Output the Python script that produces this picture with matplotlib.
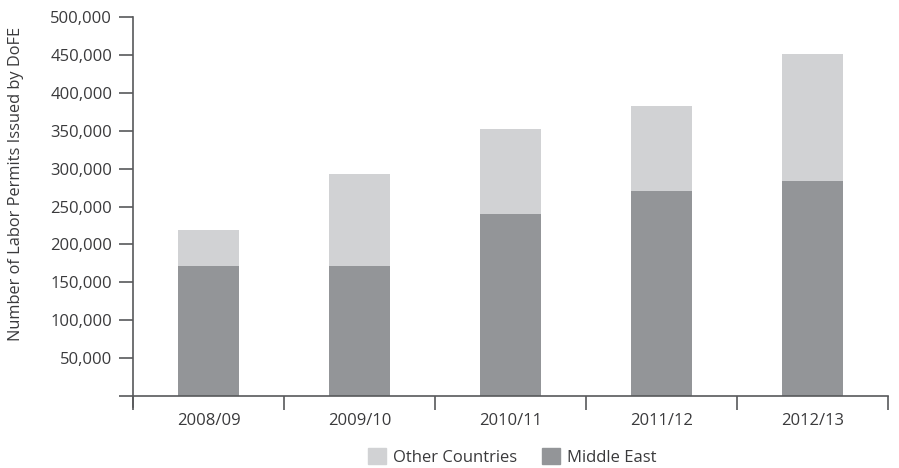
import matplotlib
matplotlib.use("Agg")
import matplotlib.pyplot as plt
import numpy as np
from matplotlib.patches import Patch

plt.rcParams['font.family'] = ['Open Sans', 'DejaVu Sans']

# data
years = ['2008/09', '2009/10', '2010/11', '2011/12', '2012/13']
middle_east = [171500, 171500, 240000, 270500, 283500]
totals = [219000, 293000, 352500, 382500, 451500]
other = [t - m for t, m in zip(totals, middle_east)]

light = '#d1d2d4'
dark = '#939598'
axis_col = '#58595b'
text_col = '#3a3a3c'

fig = plt.figure(figsize=(8.99, 4.68), dpi=100)
ax = fig.add_axes([133 / 899, 1 - 407 / 468, (888 - 133) / 899, (407 - 17) / 468])

x = np.arange(len(years))
ax.bar(x, middle_east, width=0.4, color=dark, label='Middle East')
ax.bar(x, other, width=0.4, bottom=middle_east, color=light, label='Other Countries')

ax.set_xlim(-0.5, len(years) - 0.5)
ax.set_ylim(-14500, 500000)

for s in ['top', 'right']:
    ax.spines[s].set_visible(False)
ax.spines['left'].set_color(axis_col)
ax.spines['bottom'].set_color(axis_col)
ax.spines['left'].set_linewidth(1.2)
ax.spines['bottom'].set_linewidth(1.2)
ax.spines['bottom'].set_position(('data', 0))

yt = np.arange(0, 500001, 50000)
ax.set_yticks(yt)
ax.set_yticklabels([''] + [f'{v:,}' for v in yt[1:]])
ax.tick_params(axis='y', direction='out', length=10, width=1.2, color=axis_col,
               labelsize=12, labelcolor=text_col, pad=5)

# ticks at category boundaries, labels at category centres
ax.set_xticks(np.arange(-0.5, len(years)), minor=False)
ax.set_xticklabels([''] * (len(years) + 1))
ax.set_xticks(x, minor=True)
ax.set_xticklabels(years, minor=True)
ax.tick_params(axis='x', which='major', direction='out', length=10, width=1.2, color=axis_col)
ax.tick_params(axis='x', which='minor', length=0, labelsize=12, labelcolor=text_col, pad=12)

fig.text(16 / 899, 1 - 184 / 468, 'Number of Labor Permits Issued by DoFE', rotation=90,
         ha='center', va='center', fontsize=11.8, color=text_col)

handles = [Patch(color=light, label='Other Countries'), Patch(color=dark, label='Middle East')]
fig.legend(handles=handles, loc='center', bbox_to_anchor=(512 / 899, 1 - 457 / 468), ncol=2,
           frameon=False, fontsize=12, handlelength=1.1, handleheight=1.1,
           handletextpad=0.4, columnspacing=1.5, labelcolor=text_col)

fig.savefig('out.png', dpi=100)
